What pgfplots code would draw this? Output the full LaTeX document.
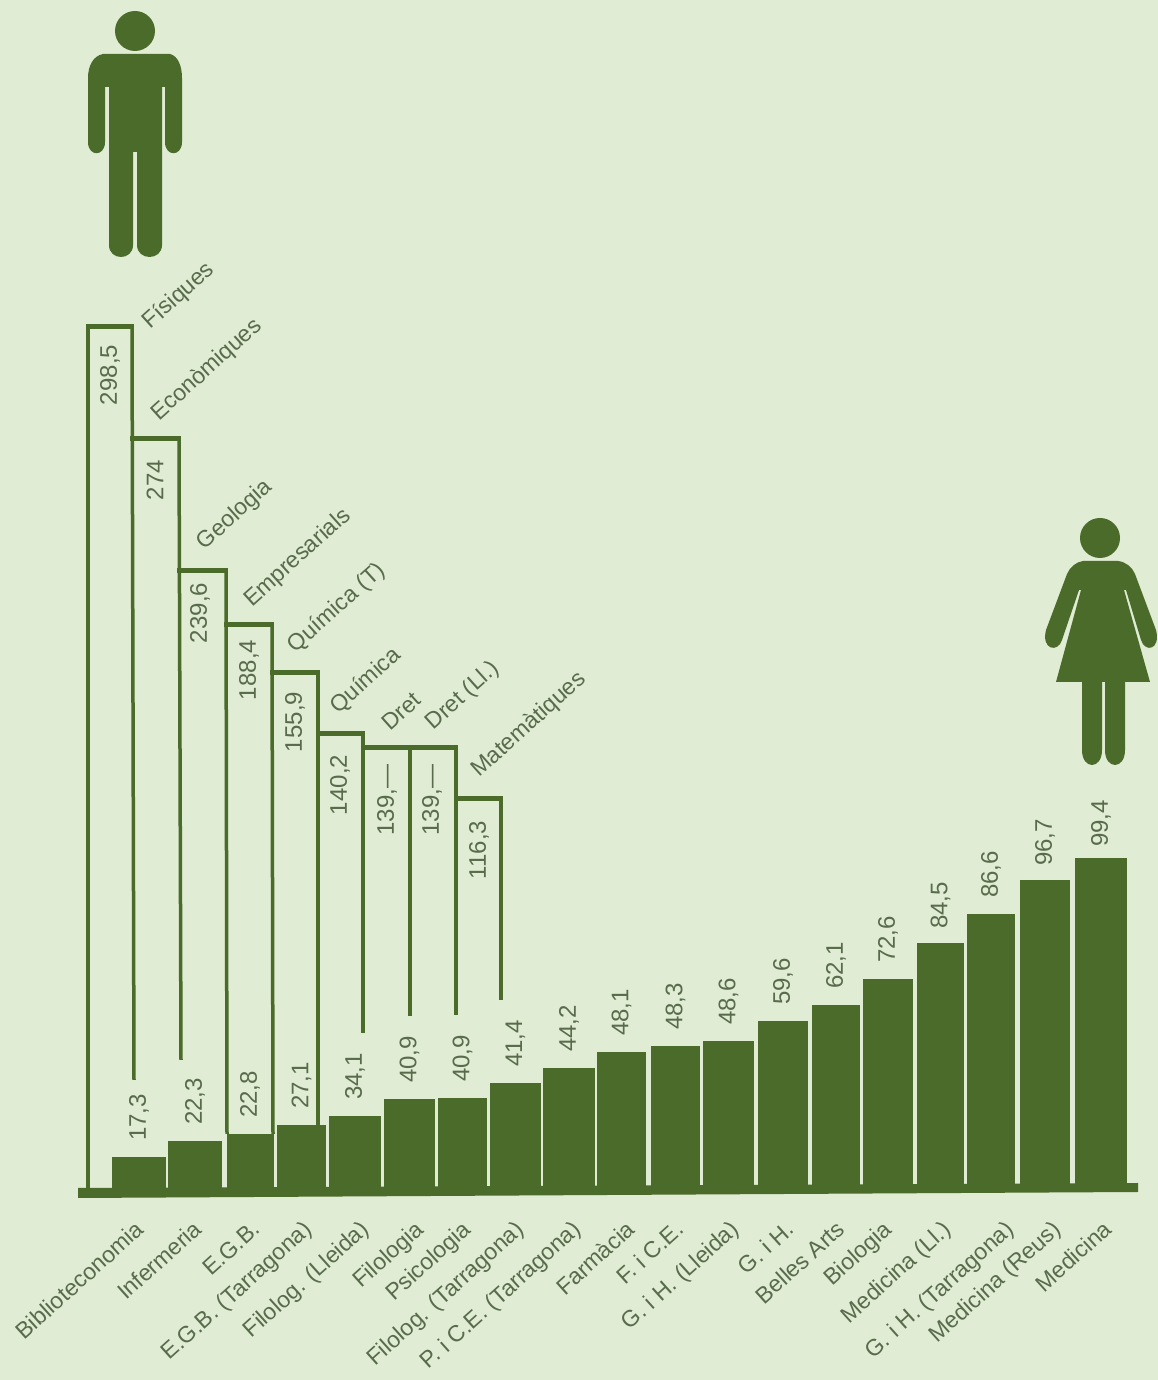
\documentclass[border=0pt]{standalone}
\usepackage{pgfplots}
\pgfplotsset{compat=1.18}
\usepackage{fontspec}
\setmainfont{Liberation Sans}
\definecolor{bg}{RGB}{224,236,211}
\definecolor{dg}{RGB}{74,107,42}
\definecolor{tx}{RGB}{88,108,76}
% female bar: [label gap], centre, width, drawn height (px above baseline), printed value
\newcommand\fbar[5][16pt]{\addplot[ybar,bar shift=0pt,bar width=#3,fill=dg,draw=none,
  nodes near coords={#5},
  every node near coord/.style={yshift=#1,rotate=90,anchor=west,inner sep=0pt,text=tx,font=\fontsize{24}{28}\selectfont}]
  coordinates {(#2,#4)};}
\newcommand\lab[4]{\node[rotate=#1,text=tx,inner sep=0pt,font=\fontsize{24}{28}\selectfont] at (axis cs:#2,#3) {#4};}
\newcommand\nam[3]{\node[rotate=42,text=tx,inner sep=0pt,font=\fontsize{23}{27}\selectfont] at (axis cs:#1,#2) {#3};}
\begin{document}
\begin{tikzpicture}
\useasboundingbox (0,0) rectangle (1158pt,1380pt);
\clip (0,0) rectangle (1158pt,1380pt);
\fill[bg] (0,0) rectangle (1158pt,1380pt);
% pictograms (pixel coordinates of the page)
\begin{scope}[x=1pt,y=-1pt,shift={(0pt,1380pt)}]
\fill[dg] (135,31) circle[radius=20];
\fill[dg] (103,54) -- (170,54) .. controls (178,56) and (182,66) .. (182,78)
  -- (182,142) .. controls (182,157) and (165,157) .. (165,142) -- (165,87) -- (162,87)
  -- (162,245) .. controls (162,261) and (137,261) .. (137,245) -- (137,152) -- (133,152)
  -- (133,245) .. controls (133,261) and (109,261) .. (109,245) -- (109,87) -- (105,87)
  -- (105,142) .. controls (105,157) and (88,157) .. (88,142) -- (88,78)
  .. controls (88,66) and (93,56) .. (103,54) -- cycle;
\fill[dg] (1100,538) circle[radius=20];
\fill[dg] (1083,561) -- (1118,561) .. controls (1126,562) and (1132,567) .. (1135,574)
  -- (1156,630) .. controls (1161,650) and (1145,653) .. (1141,640) -- (1126,590) -- (1124,590)
  -- (1150,682) -- (1125,682) -- (1125,750) .. controls (1125,770) and (1105,770) .. (1105,750)
  -- (1105,682) -- (1102,682) -- (1102,750) .. controls (1102,770) and (1082,770) .. (1082,750)
  -- (1082,682) -- (1056,682) -- (1081,590) -- (1079,590) -- (1062,640)
  .. controls (1058,653) and (1041,650) .. (1046,630) -- (1067,574)
  .. controls (1070,567) and (1076,562) .. (1083,561) -- cycle;
\end{scope}
\begin{axis}[
  at={(0pt,0pt)},anchor=south west,
  width=1158pt,height=1380pt,scale only axis,
  xmin=0,xmax=1158,ymin=-188,ymax=1192,
  clip=false,
  axis line style={draw=none},tick style={draw=none},
  ytick=\empty,
  xtick={145,203,262,313,370,425,472,525,582,636,685,740,795,846,893,952,1015,1062,1113},
  xticklabels={Biblioteconomia,Infermeria,E.G.B.,E.G.B. (Tarragona),Filolog. (Lleida),Filologia,Psicologia,Filolog. (Tarragona),P. i C.E. (Tarragona),Farmàcia,F. i C.E.,G. i H. (Lleida),G. i H.,Belles Arts,Biologia,Medicina (Ll.),G. i H. (Tarragona),Medicina (Reus),Medicina},
  x tick label style={xshift=-11pt,yshift=161pt,rotate=42,anchor=north east,inner sep=0pt,text=tx,font=\fontsize{23}{27}\selectfont},
]
% female bars: height in picture pixels above the baseline, printed value as label
\fbar{139}{54}{35}{17,3}
\fbar{195}{54}{51}{22,3}
\fbar{250}{47}{58}{22,8}
\fbar{301.5}{49}{67}{27,1}
\fbar{355}{52}{76}{34,1}
\fbar{409.5}{51}{93}{40,9}
\fbar{462.5}{49}{94}{40,9}
\fbar{515.5}{51}{109}{41,4}
\fbar{569}{52}{124}{44,2}
\fbar{621.5}{49}{140}{48,1}
\fbar{675.5}{49}{146}{48,3}
\fbar{728.5}{51}{151}{48,6}
\fbar{783}{50}{171}{59,6}
\fbar{836}{48}{187}{62,1}
\fbar{888}{50}{213}{72,6}
\fbar[14pt]{940.5}{47}{249}{84,5}
\fbar{991}{48}{278}{86,6}
\fbar[14pt]{1045}{50}{312}{96,7}
\fbar[11pt]{1101}{52}{334}{99,4}
% baseline band
\addplot[fill=dg,draw=none] coordinates {(78,4)(1138,9)(1138,0)(78,-6)} -- cycle;
% male columns: verticals, height in picture pixels
\addplot[dg,line width=4.5pt,no marks] coordinates {(88,0)(88,867)};
\addplot[dg,line width=3.5pt,no marks] coordinates {(132,865)(134,112)};
\addplot[dg,line width=3.5pt,no marks] coordinates {(179,753)(181,132)};
\addplot[dg,line width=3.5pt,no marks] coordinates {(226,621)(227,58)};
\addplot[dg,line width=3.5pt,no marks] coordinates {(272,567)(273,58)};
\addplot[dg,line width=3.5pt,no marks] coordinates {(318,519)(318,67)};
\addplot[dg,line width=3.5pt,no marks] coordinates {(363,458)(363,159)};
\addplot[dg,line width=3.5pt,no marks] coordinates {(410,444)(410,176)};
\addplot[dg,line width=3.5pt,no marks] coordinates {(456,444)(456,177)};
\addplot[dg,line width=3.5pt,no marks] coordinates {(501,393)(501,192)};
% male columns: tops
\addplot[dg,line width=5pt,no marks] coordinates {(86,865)(134,865)};
\addplot[dg,line width=5pt,no marks] coordinates {(130,753)(181,753)};
\addplot[dg,line width=5pt,no marks] coordinates {(177,621)(228,621)};
\addplot[dg,line width=5pt,no marks] coordinates {(224,567)(274,567)};
\addplot[dg,line width=5pt,no marks] coordinates {(270,519)(320,519)};
\addplot[dg,line width=5pt,no marks] coordinates {(316,458)(365,458)};
\addplot[dg,line width=5pt,no marks] coordinates {(361,444)(458,444)};
\addplot[dg,line width=5pt,no marks] coordinates {(454,393)(503,393)};
% male values
\lab{90}{110}{817}{298,5}
\lab{90}{155}{712}{274}
\lab{90}{200}{579}{239,6}
\lab{90}{249}{522}{188,4}
\lab{90}{295}{470}{155,9}
\lab{90}{340}{407}{140,2}
\lab{90}{387}{392}{139,—}
\lab{90}{432}{392}{139,—}
\lab{90}{479}{342}{116,3}
% male names
\nam{179}{896}{Físiques}
\nam{207}{822}{Econòmiques}
\nam{235}{677}{Geologia}
\nam{298}{634}{Empresarials}
\nam{337}{584}{Química (T)}
\nam{366}{511}{Química}
\nam{401}{481}{Dret}
\nam{463}{496}{Dret (Ll.)}
\nam{529}{467}{Matemàtiques}
\end{axis}
\end{tikzpicture}
\end{document}
